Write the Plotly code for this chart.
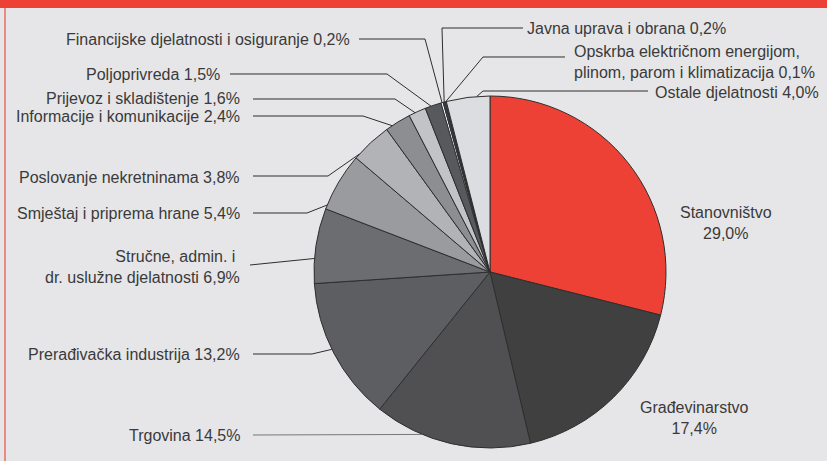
import plotly.graph_objects as go
import math

# ---- data ----
sectors = ["Stanovništvo", "Građevinarstvo", "Trgovina", "Prerađivačka industrija",
           "Stručne, admin. i dr. uslužne djelatnosti", "Smještaj i priprema hrane",
           "Poslovanje nekretninama", "Informacije i komunikacije", "Prijevoz i skladištenje",
           "Poljoprivreda", "Financijske djelatnosti i osiguranje", "Javna uprava i obrana",
           "Opskrba električnom energijom, plinom, parom i klimatizacija", "Ostale djelatnosti"]
shares = [29.0, 17.4, 14.5, 13.2, 6.9, 5.4, 3.8, 2.4, 1.6, 1.5, 0.2, 0.2, 0.1, 4.0]
label_texts = ["Stanovništvo<br>29,0%", "Građevinarstvo<br>17,4%", "Trgovina 14,5%",
               "Prerađivačka industrija 13,2%", "Stručne, admin. i <br>dr. uslužne djelatnosti 6,9%",
               "Smještaj i priprema hrane 5,4%", "Poslovanje nekretninama 3,8%",
               "Informacije i komunikacije 2,4%", "Prijevoz i skladištenje 1,6%",
               "Poljoprivreda 1,5%", "Financijske djelatnosti i osiguranje 0,2%",
               "Javna uprava i obrana 0,2%",
               "Opskrba električnom energijom,<br>plinom, parom i klimatizacija 0,1%",
               "Ostale djelatnosti 4,0%"]

colors = ["#ee4136", "#404040", "#505052", "#5d5e61", "#6c6d70", "#9a9b9e", "#b2b3b6",
          "#8d8e91", "#c2c3c6", "#58595c", "#ffffff", "#3e4050", "#7b7f95", "#dcdde0"]

W, H = 827, 461
CX, CY, R = 490, 272, 176

def px(x):
    return x / W

def py(y):
    return 1 - y / H

fig = go.Figure(go.Pie(
    labels=sectors, values=shares, sort=False, direction="clockwise", rotation=0,
    marker=dict(colors=colors, line=dict(color="#2e2e2e", width=1)),
    textinfo="none", hoverinfo="label+percent", showlegend=False,
    domain=dict(x=[px(CX - R), px(CX + R)], y=[py(CY + R), py(CY - R)]),
))

total = sum(shares)
cum = []
c = 0
for v in shares:
    cum.append(c)
    c += v

def anchor(i, frac):
    ang = (cum[i] + frac * shares[i]) / total * 2 * math.pi
    return CX + R * math.sin(ang), CY - R * math.cos(ang)

# label layout: (text x, text y, xanchor, align, leader path points before anchor, anchor frac)
layout_spec = {
    0: (726, 223, "center", "center", None, None),
    1: (694, 418, "center", "center", None, None),
    2: (242, 435, "right", "right", [(253, 435)], 0.69),
    3: (242, 354, "right", "right", [(253, 354), (312, 354)], 0.53),
    4: (242, 267, "right", "right", [(250, 265)], 0.33),
    5: (242, 213, "right", "right", [(253, 213), (307, 213)], 0.07),
    6: (242, 177, "right", "right", [(253, 176), (328, 176)], 0.12),
    7: (242, 117, "right", "right", [(253, 116), (363, 116)], 0.25),
    8: (242, 99, "right", "right", [(253, 99), (395, 99)], 0.37),
    9: (222, 74, "right", "right", [(230, 74), (387, 74)], 0.37),
    10: (352, 39, "right", "right", [(359, 39), (425, 39)], 0.5),
    11: (525, 28, "left", "left", [(523, 28), (442, 28)], 0.5),
    12: (572, 62, "left", "left", [(565, 57), (483, 57)], 0.5),
    13: (653, 92, "left", "left", [(648, 91), (483, 91)], 0.7),
}

shapes = []
annotations = []
for i, (tx, ty, xa, al, pts, frac) in layout_spec.items():
    annotations.append(dict(
        x=px(tx), y=py(ty), xref="paper", yref="paper", text=label_texts[i],
        showarrow=False, xanchor=xa, yanchor="middle", align=al,
        font=dict(family="Liberation Sans, Arial, sans-serif", size=16, color="#3a3a3a"),
    ))
    if pts:
        ax, ay = anchor(i, frac)
        allp = pts + [(ax, ay)]
        path = "M " + " L ".join(f"{px(x):.5f},{py(y):.5f}" for x, y in allp)
        shapes.append(dict(type="path", path=path, xref="paper", yref="paper",
                           line=dict(color="#777777" if i == 2 else "#2e2e2e", width=1)))

# frame: red top bar and left red border
shapes.append(dict(type="rect", xref="paper", yref="paper", x0=0, x1=1, y0=py(8), y1=1,
                   fillcolor="#ee4136", line=dict(width=0), layer="above"))
shapes.append(dict(type="line", xref="paper", yref="paper", x0=px(5), x1=px(5), y0=0, y1=py(8),
                   line=dict(color="#ec6b63", width=1.5)))

fig.update_layout(
    width=W, height=H, margin=dict(l=0, r=0, t=0, b=0),
    paper_bgcolor="#e6e6e8", plot_bgcolor="#e6e6e8",
    shapes=shapes, annotations=annotations,
)

fig.write_html("out.html", config={"displayModeBar": False},
               post_script="document.body.style.margin='0';document.body.style.overflow='hidden';"
                           "document.body.style.background='#e6e6e8';")
